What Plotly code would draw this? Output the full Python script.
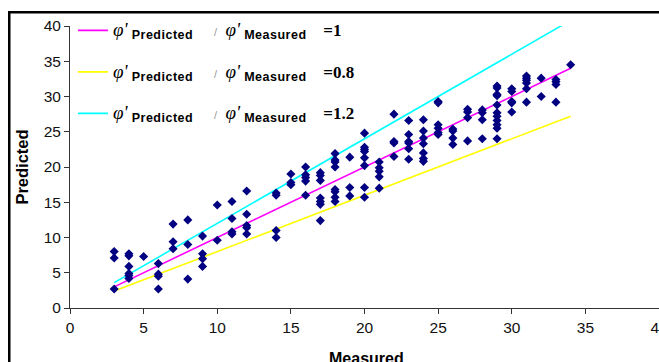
import plotly.graph_objects as go

measured = (
    [3]*3 + [4]*6 + [5]*1 + [6]*4 + [7]*3 + [8]*3 + [9]*4 + [10]*2 + [11]*4 + [12]*5 +
    [14]*4 + [15]*3 + [16]*5 + [17]*7 + [18]*8 + [19]*3 + [20]*8 + [21]*5 + [22]*4 +
    [23]*6 + [24]*7 + [25]*6 + [26]*4 + [27]*4 + [28]*4 + [29]*11 + [30]*5 + [31]*6 +
    [32]*2 + [33]*4 + [34]*1
)
predicted = [
    8.0, 7.1, 2.7,
    7.7, 7.4, 5.9, 4.9, 4.6, 4.2,
    7.3,
    6.3, 4.8, 4.5, 2.7,
    11.9, 9.4, 8.4,
    12.5, 9.0, 4.1,
    10.2, 7.7, 7.0, 5.9,
    14.6, 9.6,
    15.1, 12.7, 10.8, 10.5,
    16.6, 13.3, 11.7, 11.4, 10.5,
    16.3, 16.0, 11.0, 10.0,
    19.0, 17.8, 17.5,
    20.0, 18.9, 18.5, 18.0, 16.0,
    19.2, 18.8, 18.1, 15.6, 15.1, 14.7, 12.4,
    21.9, 21.0, 20.7, 20.0, 16.8, 16.5, 15.7, 15.1,
    21.4, 17.1, 15.9,
    24.8, 22.8, 22.5, 22.2, 21.3, 20.2, 17.1, 15.7,
    20.7, 19.9, 19.4, 18.6, 17.0,
    27.5, 23.6, 23.4, 21.5,
    26.6, 24.6, 23.6, 23.4, 22.6, 21.1,
    26.7, 25.1, 24.1, 23.3, 22.0, 21.2, 20.8,
    29.3, 29.1, 26.0, 25.5, 24.9, 24.6,
    25.4, 25.1, 24.1, 23.2,
    28.2, 27.8, 27.0, 23.7,
    28.1, 27.7, 26.7, 24.0,
    31.5, 31.2, 30.3, 30.1, 28.8, 27.7, 27.2, 26.6, 26.0, 25.5, 24.0,
    31.1, 30.7, 29.3, 29.1, 27.8,
    32.9, 32.6, 32.3, 31.9, 31.1, 29.2,
    32.6, 30.0,
    32.4, 32.1, 31.7, 29.2,
    34.5,
]

line_x = [3, 34]
ratios = [1, 0.8, 1.2]
ratio_labels = ["=1", "=0.8", "=1.2"]
line_colors = ["#FF00FF", "#FFFF00", "#00FFFF"]

x_ticks = [0, 5, 10, 15, 20, 25, 30, 35, 40]
y_ticks = [0, 5, 10, 15, 20, 25, 30, 35, 40]

NB = "\u00a0"

def legend_label(r):
    phi = '<span style="font-family:Liberation Serif;font-size:19px"><i>φ\'</i></span>'
    sub = lambda t: '<sub><span style="font-size:12.5px;letter-spacing:0.5px"><b>' + t + '</b></span></sub>'
    return (phi + NB + sub("Predicted") + NB*5 +
            '<span style="color:#999;font-size:11px">/</span>' + NB*2 + phi + NB +
            sub("Measured") + NB*4 +
            '<span style="font-family:Liberation Serif;font-size:17px"><b>' + r + '</b></span>')

fig = go.Figure()
for i, (r, lab, col) in enumerate(zip(ratios, ratio_labels, line_colors)):
    fig.add_trace(go.Scatter(
        x=line_x, y=[v * r for v in line_x], mode="lines",
        line=dict(color=col, width=1.6), name=legend_label(lab),
        legendgroup=f"g{i}", hoverinfo="skip"))

fig.add_trace(go.Scatter(
    x=measured, y=predicted, mode="markers",
    marker=dict(symbol="diamond", size=7, color="#000080"),
    showlegend=False))

axis_common = dict(
    showgrid=False, zeroline=False, showline=True, linecolor="#333333", linewidth=1,
    ticks="outside", ticklen=5, tickcolor="#333333", ticklabeloverflow="allow",
    automargin=False,
    tickfont=dict(family="Liberation Sans, Arial", size=15.5, color="#111111"),
)

fig.update_layout(
    width=659, height=362,
    margin=dict(l=70, r=0, t=26, b=54),
    paper_bgcolor="white", plot_bgcolor="white",
    font=dict(family="Liberation Sans, Arial", color="black"),
    xaxis=dict(range=[0, 40], tickvals=x_ticks, **axis_common),
    yaxis=dict(range=[0, 40], tickvals=y_ticks,
               title=dict(text="<b>Predicted</b>", font=dict(size=16.5), standoff=10),
               **axis_common),
    showlegend=True,
    legend=dict(x=0.005, y=1.042, xanchor="left", yanchor="top",
                bgcolor="rgba(0,0,0,0)", font=dict(size=15, family="Liberation Sans, Arial"),
                tracegroupgap=19, itemwidth=30),
    annotations=[
        dict(text="<b>Measured</b>", xref="paper", yref="paper",
             x=(366 - 70) / 589, y=(308 - 358) / 282, xanchor="center",
             yanchor="middle", showarrow=False, font=dict(size=16)),
        # chart-area frame (right and bottom edges fall outside the picture)
        dict(text=" ", xref="paper", yref="paper",
             x=(8 - 70) / 589, y=(308 - 11) / 282, xanchor="left", yanchor="top",
             showarrow=False, width=800, height=500, borderpad=0,
             bordercolor="black", borderwidth=2.5, bgcolor="rgba(0,0,0,0)"),
    ],
)

fig.write_html("out.html")
